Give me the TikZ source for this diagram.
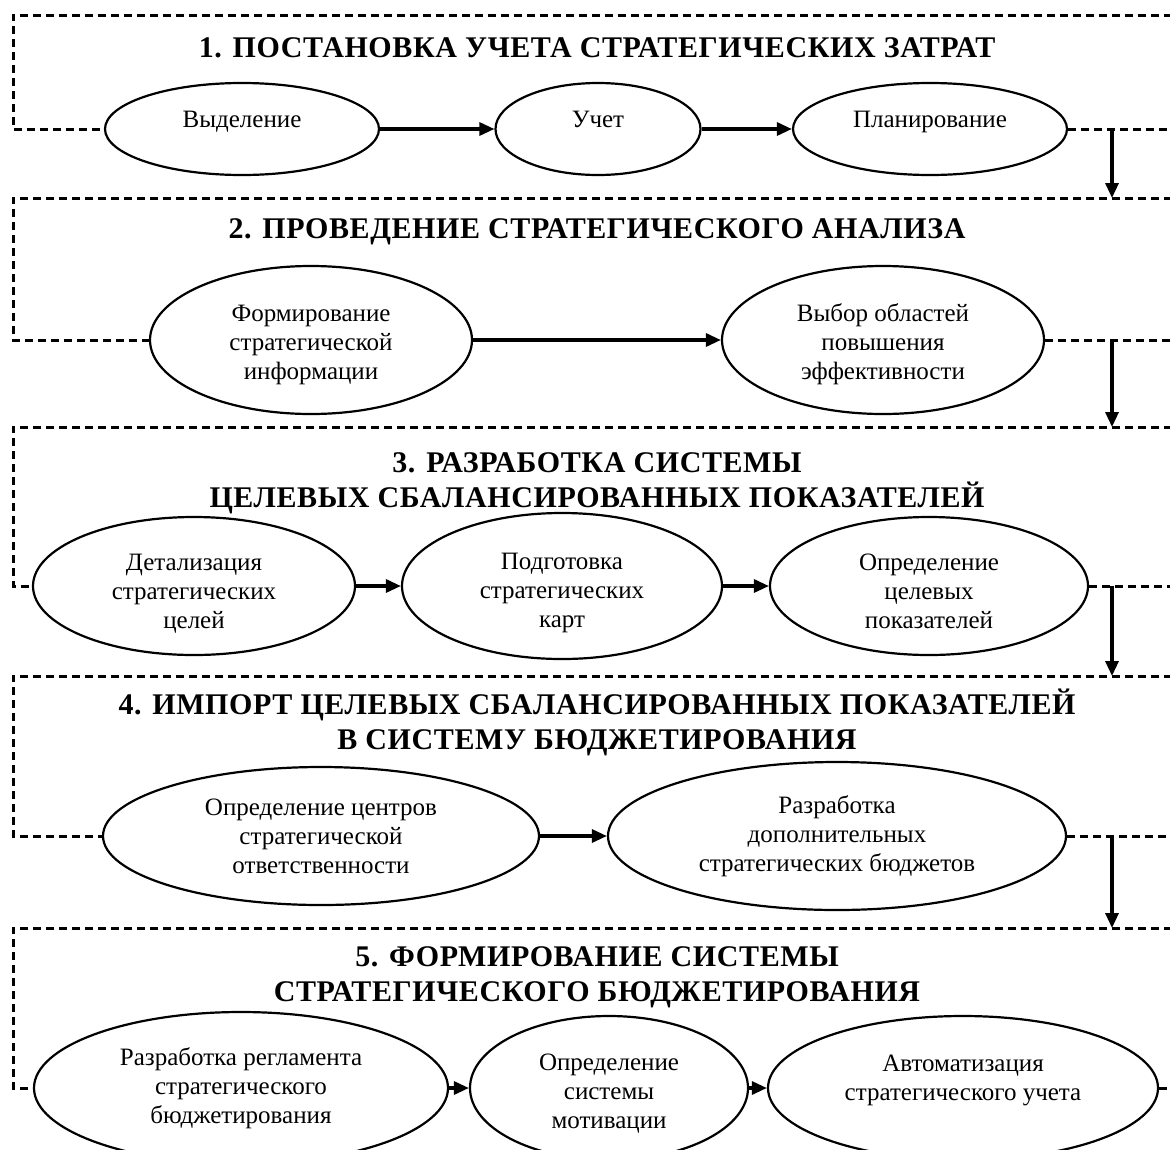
\documentclass[tikz,border=0pt]{standalone}
\usepackage{fontspec}
\setmainfont{Liberation Serif}
\newfontfamily\ttlfont[LetterSpace=2.0]{Liberation Serif}
\usetikzlibrary{arrows.meta,shapes.geometric}
\newcommand\pushdown[1]{\mbox{}\\[#1]}
\begin{document}
\begin{tikzpicture}[x=1pt,y=-1pt,
  frame/.style={line width=3pt, dash pattern=on 8pt off 5pt},
  ell/.style={ellipse, draw, line width=2.2pt, inner sep=0pt, align=center,
    font=\fontsize{25}{29}\selectfont, fill=white},
  flow/.style={line width=3.2pt, -{Triangle[length=15pt,width=13pt]}},
  ttl/.style={font=\ttlfont\fontsize{30}{35}\selectfont\bfseries, align=center, inner sep=0pt},
  oneline/.style={text height=17pt, text depth=20pt}
]
\useasboundingbox (0,0) rectangle (1170,1149);
\clip (0,0) rectangle (1170,1149);

% ---------- Section 1 ----------
\node[ttl] (t1) at (597,48) {1. ПОСТАНОВКА УЧЕТА СТРАТЕГИЧЕСКИХ ЗАТРАТ};
\node[ell, oneline, minimum width=274pt, minimum height=92pt] (a1) at (242,129) {Выделение};
\node[ell, oneline, minimum width=205pt, minimum height=92pt] (a2) at (598,129) {Учет};
\node[ell, oneline, minimum width=274pt, minimum height=92pt] (a3) at (930,129) {Планирование};
\coordinate (a0) at (13,129);
\coordinate (a9) at (1172,129);
\draw[frame] (1172,15) -- (13,15) -- (a0) -- (a1.west);
\draw[frame] (a3.east) -- (a9);
\draw[flow] (a1.east) -- (a2.west);
\draw[flow] (a2.east) -- (a3.west);

% ---------- Section 2 ----------
\node[ttl] (t2) at (597,232) {2. ПРОВЕДЕНИЕ СТРАТЕГИЧЕСКОГО АНАЛИЗА};
\node[ell, minimum width=322pt, minimum height=148pt] (b1) at (311,340) {\pushdown{-2pt}Формирование\\стратегической\\информации};
\node[ell, minimum width=322pt, minimum height=148pt] (b2) at (883,340) {\pushdown{-2pt}Выбор областей\\повышения\\эффективности};
\coordinate (b0) at (13,340);
\coordinate (b9) at (1172,340);
\draw[frame] (1172,198) -- (13,198) -- (b0) -- (b1.west);
\draw[frame] (b2.east) -- (b9);
\draw[flow] (b1.east) -- (b2.west);

% ---------- Section 3 ----------
\node[ttl] (t3) at (597,483) {3. РАЗРАБОТКА СИСТЕМЫ\\ЦЕЛЕВЫХ СБАЛАНСИРОВАННЫХ ПОКАЗАТЕЛЕЙ};
\node[ell, minimum width=322pt, minimum height=138pt] (c1) at (194,586) {\pushdown{2pt}Детализация\\стратегических\\целей};
\node[ell, minimum width=320pt, minimum height=146pt] (c2) at (562,586) {\pushdown{2pt}Подготовка\\стратегических\\карт};
\node[ell, minimum width=318pt, minimum height=138pt] (c3) at (929,586) {\pushdown{-2pt}Определение\\целевых\\показателей};
\coordinate (c0) at (13,586);
\coordinate (c9) at (1172,586);
\draw[frame] (1172,427) -- (13,427) -- (c0) -- (c1.west);
\draw[frame] (c3.east) -- (c9);
\draw[flow] (c1.east) -- (c2.west);
\draw[flow] (c2.east) -- (c3.west);

% ---------- Section 4 ----------
\node[ttl] (t4) at (597,722) {4. ИМПОРТ ЦЕЛЕВЫХ СБАЛАНСИРОВАННЫХ ПОКАЗАТЕЛЕЙ\\В СИСТЕМУ БЮДЖЕТИРОВАНИЯ};
\node[ell, minimum width=436pt, minimum height=138pt] (d1) at (321,836) {Определение центров\\стратегической\\ответственности};
\node[ell, minimum width=458pt, minimum height=148pt] (d2) at (837,836) {Разработка\\дополнительных\\стратегических бюджетов};
\coordinate (d0) at (13,836);
\coordinate (d9) at (1172,836);
\draw[frame] (1172,676) -- (13,676) -- (d0) -- (d1.west);
\draw[frame] (d2.east) -- (d9);
\draw[flow] (d1.east) -- (d2.west);

% ---------- Section 5 ----------
\node[ttl] (t5) at (597,977) {5. ФОРМИРОВАНИЕ СИСТЕМЫ\\СТРАТЕГИЧЕСКОГО БЮДЖЕТИРОВАНИЯ};
\node[ell, minimum width=414pt, minimum height=152pt] (e1) at (241,1088) {Разработка регламента\\стратегического\\бюджетирования};
\node[ell, minimum width=278pt, minimum height=144pt] (e2) at (609,1088) {\pushdown{-1pt}Определение\\системы\\мотивации};
\node[ell, minimum width=390pt, minimum height=144pt] (e3) at (963,1088) {Автоматизация\\стратегического учета\\[-8pt] };
\coordinate (e0) at (13,1088);
\coordinate (e9) at (1172,1088);
\draw[frame] (1172,928) -- (13,928) -- (e0) -- (e1.west);
\draw[frame] (e3.east) -- (e9);
\draw[flow] (e1.east) -- (e2.west);
\draw[flow] (e2.east) -- (e3.west);

% ---------- transitions between sections ----------
\coordinate (p1) at (1112,129);  \coordinate (q1) at (1112,198);
\coordinate (p2) at (1112,340);  \coordinate (q2) at (1112,427);
\coordinate (p3) at (1112,586);  \coordinate (q3) at (1112,676);
\coordinate (p4) at (1112,836);  \coordinate (q4) at (1112,928);
\draw[flow] (p1) -- (q1);
\draw[flow] (p2) -- (q2);
\draw[flow] (p3) -- (q3);
\draw[flow] (p4) -- (q4);
\end{tikzpicture}
\end{document}
